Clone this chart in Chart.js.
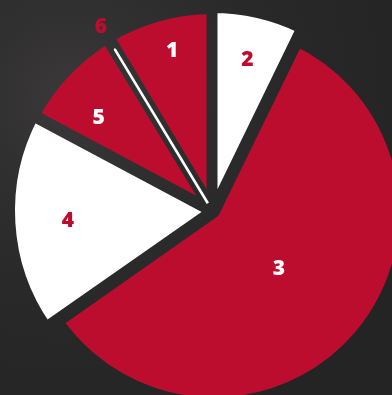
<!DOCTYPE html>
<html>
<head>
<meta charset="utf-8">
<script src="https://cdn.jsdelivr.net/npm/chart.js@4.4.1/dist/chart.umd.min.js"></script>
<style>
  html, body { margin: 0; padding: 0; }
  body { width: 392px; height: 395px; overflow: hidden; background: #272626; }
  #wrap { position: relative; width: 392px; height: 395px; }
</style>
</head>
<body>
<div id="wrap"><canvas id="pie"></canvas></div>
<script>
// slice names and their shares (percent), clockwise from slice 1
const labels = ['1', '2', '3', '4', '5', '6'];
const shares = [8.6, 7.2, 58.1, 17.5, 8.5, 0.1];

const RED = '#bd0d2f';
const WHITE = '#ffffff';

const fills = [RED, WHITE, RED, WHITE, RED, WHITE];
const edgeWidths = [12, 10, 11, 11, 12, 2.6];
const pullOut = [0, 0, 8, 0, 0, 36];
// per-slice radius relative to the pie radius
const radiusScale = [1, 1, 0.929, 1, 1, 0.842];
// label placement: distance as a fraction of the radius, plus a small turn in degrees
const labelDist = [0.818, 0.766, 0.43, 0.713, 0.728, 1.062];
const labelTurn = [1.4, 0, 0, 0, -3.7, 0];
const labelColors = [WHITE, RED, WHITE, RED, WHITE, RED];

// backdrop shading, also used for the gaps between slices so they blend in
let backdrop = null;
function getBackdrop(ctx) {
  if (!backdrop) {
    backdrop = ctx.createRadialGradient(70, 95, 0, 70, 95, 360);
    backdrop.addColorStop(0, '#3a3838');
    backdrop.addColorStop(0.28, '#302f2f');
    backdrop.addColorStop(0.6, '#292828');
    backdrop.addColorStop(1, '#252424');
  }
  return backdrop;
}

const backdropFill = {
  id: 'backdropFill',
  beforeDraw(chart) {
    const ctx = chart.ctx;
    ctx.save();
    ctx.fillStyle = getBackdrop(ctx);
    ctx.fillRect(0, 0, chart.width, chart.height);
    ctx.restore();
  }
};

const sliceRadius = {
  id: 'sliceRadius',
  afterDatasetUpdate(chart, args) {
    const meta = args.meta;
    const base = meta.controller.outerRadius;
    meta.data.forEach((arc, i) => {
      arc.outerRadius = base * radiusScale[i];
    });
  }
};

const sliceLabels = {
  id: 'sliceLabels',
  afterDatasetsDraw(chart) {
    const meta = chart.getDatasetMeta(0);
    const base = meta.controller.outerRadius;
    const ctx = chart.ctx;
    ctx.save();
    ctx.font = '800 21px "Open Sans"';
    ctx.textAlign = 'center';
    ctx.textBaseline = 'middle';
    meta.data.forEach((arc, i) => {
      const mid = (arc.startAngle + arc.endAngle) / 2 + labelTurn[i] * Math.PI / 180;
      const r = base * labelDist[i];
      ctx.fillStyle = labelColors[i];
      ctx.fillText(labels[i], arc.x + Math.cos(mid) * r, arc.y + Math.sin(mid) * r + 1);
    });
    ctx.restore();
  }
};

const total = shares.reduce((a, b) => a + b, 0);

new Chart(document.getElementById('pie'), {
  type: 'pie',
  data: {
    labels: labels,
    datasets: [{
      data: shares,
      backgroundColor: fills,
      borderColor: (c) => c.dataIndex === 5 ? WHITE : getBackdrop(c.chart.ctx),
      borderWidth: edgeWidths,
      offset: pullOut
    }]
  },
  options: {
    responsive: true,
    maintainAspectRatio: false,
    animation: false,
    events: [],
    devicePixelRatio: 1,
    radius: 203,
    rotation: -shares[0] / total * 360,
    layout: { padding: { left: 33, top: 27, right: 0, bottom: 0 } },
    plugins: {
      legend: { display: false },
      tooltip: { enabled: false }
    }
  },
  plugins: [backdropFill, sliceRadius, sliceLabels]
});
</script>
</body>
</html>
